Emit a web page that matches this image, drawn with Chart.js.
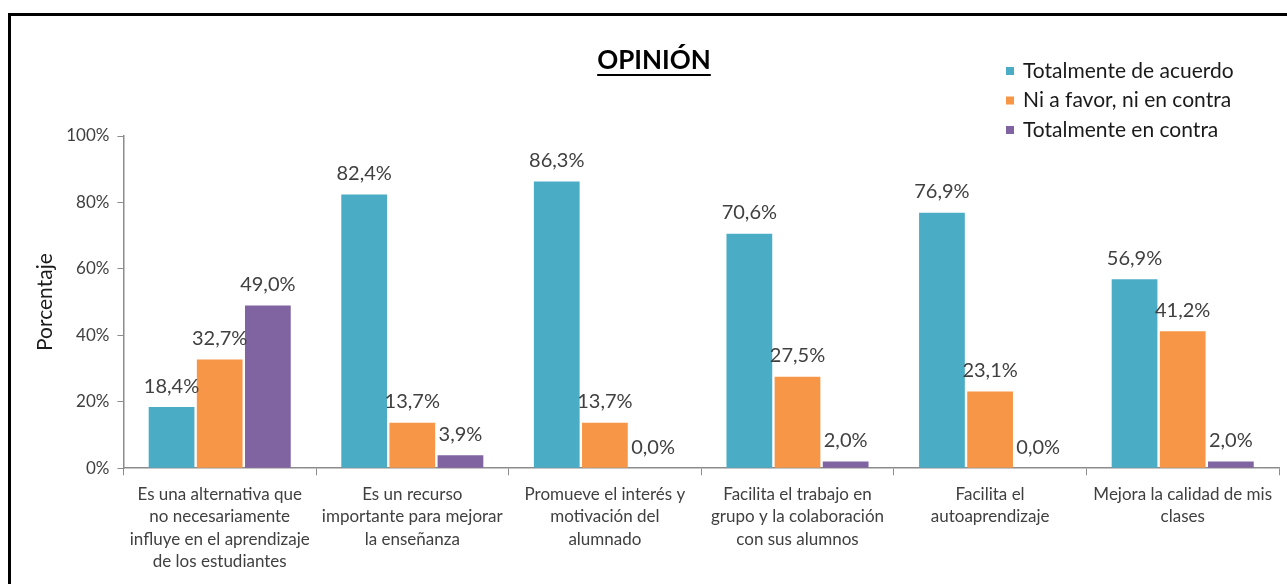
<!DOCTYPE html>
<html>
<head>
<meta charset="utf-8">
<script src="https://cdn.jsdelivr.net/npm/chart.js@4"></script>
<style>
  body { margin: 0; background: #fff; }
  #wrap { position: relative; width: 1287px; height: 584px; }
  #frame { position: absolute; left: 8px; top: 13px; right: -10px; bottom: -10px; border-top: 3px solid #000; border-left: 3px solid #000; }
  canvas { position: absolute; left: 0; top: 0; }
</style>
</head>
<body>
<div id="wrap">
  <div id="frame"></div>
  <canvas id="myChart" width="1287" height="584"></canvas>
</div>
<script>
'use strict';
const categories = [
  ['Es una alternativa que', 'no necesariamente', 'influye en el aprendizaje', 'de los estudiantes'],
  ['Es un recurso', 'importante para mejorar', 'la enseñanza'],
  ['Promueve el interés y', 'motivación del', 'alumnado'],
  ['Facilita el trabajo en', 'grupo y la colaboración', 'con sus alumnos'],
  ['Facilita el', 'autoaprendizaje'],
  ['Mejora la calidad de mis', 'clases']
];
const seriesNames = ['Totalmente de acuerdo', 'Ni a favor, ni en contra', 'Totalmente en contra'];
const acuerdo = [18.4, 82.4, 86.3, 70.6, 76.9, 56.9];
const neutral = [32.7, 13.7, 13.7, 27.5, 23.1, 41.2];
const contra = [49.0, 3.9, 0.0, 2.0, 0.0, 2.0];
const yTicks = [0, 20, 40, 60, 80, 100];

const colors = ['#4BACC6', '#F79646', '#8064A2'];
const font = 'Lato, "Open Sans", sans-serif';

function pct(v) {
  return v.toFixed(1).replace('.', ',') + '%';
}

// title, legend and value labels
const extras = {
  id: 'extras',
  afterDraw(chart) {
    const ctx = chart.ctx;
    ctx.save();
    // value labels
    ctx.fillStyle = '#404040';
    ctx.font = '20px ' + font;
    ctx.textAlign = 'center';
    ctx.textBaseline = 'middle';
    chart.data.datasets.forEach((ds, i) => {
      chart.getDatasetMeta(i).data.forEach((bar, j) => {
        ctx.fillText(pct(ds.data[j]), bar.x, bar.y - 21);
      });
    });
    // title
    ctx.fillStyle = '#000';
    ctx.font = 'bold 26px ' + font;
    const t = 'OPINIÓN';
    const tw = ctx.measureText(t).width;
    ctx.fillText(t, 654, 61);
    ctx.fillRect(654 - tw / 2, 74, tw, 2);
    // legend
    ctx.font = '21px ' + font;
    ctx.textAlign = 'left';
    chart.data.datasets.forEach((ds, i) => {
      const y = 71 + i * 29.5;
      ctx.fillStyle = ds.backgroundColor;
      ctx.fillRect(1006, y - 4, 8, 8);
      ctx.fillStyle = '#1a1a1a';
      ctx.fillText(ds.label, 1023, y);
    });
    ctx.restore();
  }
};

const ctx = document.getElementById('myChart').getContext('2d');
const chart = new Chart(ctx, {
  type: 'bar',
  data: {
    labels: categories,
    datasets: [
      { label: seriesNames[0], data: acuerdo, backgroundColor: colors[0] },
      { label: seriesNames[1], data: neutral, backgroundColor: colors[1] },
      { label: seriesNames[2], data: contra, backgroundColor: colors[2] }
    ]
  },
  options: {
    responsive: false,
    animation: false,
    datasets: { bar: { categoryPercentage: 0.75, barPercentage: 0.95 } },
    layout: { padding: { top: 136, right: 8, bottom: 3, left: 33 } },
    plugins: {
      legend: { display: false },
      title: { display: false },
      tooltip: { enabled: false }
    },
    scales: {
      x: {
        grid: { display: true, offset: true, drawOnChartArea: false, drawTicks: true, tickLength: 7, color: '#8c8c8c' },
        border: { color: '#8c8c8c', width: 1.5 },
        ticks: { color: '#404040', font: { family: font, size: 17, lineHeight: 1.32 }, maxRotation: 0, autoSkip: false, padding: 8 }
      },
      y: {
        min: 0,
        max: 100,
        afterBuildTicks(axis) {
          axis.ticks = yTicks.map(v => ({ value: v }));
        },
        grid: { display: true, drawOnChartArea: false, drawTicks: true, tickLength: 6, color: '#8c8c8c' },
        border: { color: '#8c8c8c', width: 1.5 },
        ticks: { color: '#404040', font: { family: font, size: 17 }, padding: 8, callback: v => v + '%' },
        title: { display: true, text: 'Porcentaje', color: '#1a1a1a', font: { family: font, size: 21 }, padding: { top: 0, bottom: 0 } }
      }
    }
  },
  plugins: [extras]
});
</script>
</body>
</html>
